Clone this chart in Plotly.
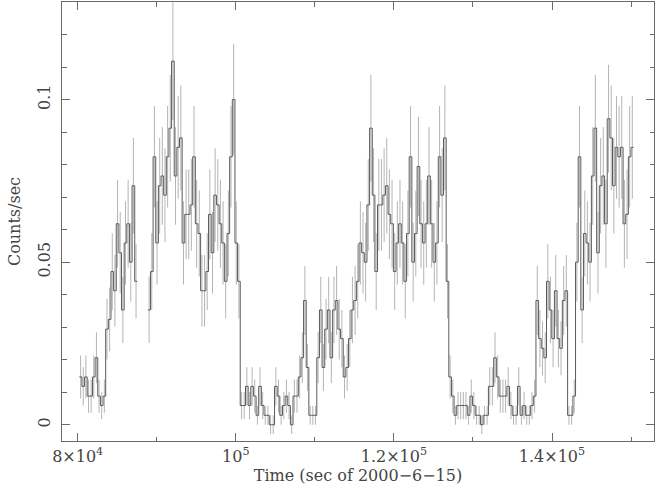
import plotly.graph_objects as go

# ---- data ----
bin_width = 334.0           # seconds per bin
seg1_start = 80200.0        # left edge of first bin of segment 1
seg2_start = 88870.0        # left edge of first bin of segment 2

seg1_rate = [0.0147, 0.0118, 0.0147, 0.0088, 0.0088, 0.0147, 0.0206, 0.0088, 0.0059, 0.0088,
             0.0294, 0.0324, 0.0471, 0.0412, 0.0618, 0.0529, 0.0353, 0.0559, 0.0618, 0.0500,
             0.0735, 0.0441]
seg1_err = [0.0066, 0.0059, 0.0066, 0.0051, 0.0051, 0.0066, 0.0078, 0.0051, 0.0042, 0.0051,
            0.0093, 0.0098, 0.0118, 0.0110, 0.0135, 0.0125, 0.0102, 0.0128, 0.0135, 0.0121,
            0.0147, 0.0114]

seg2a_rate = [0.0353, 0.0471, 0.0824, 0.0559, 0.0735, 0.0765, 0.0706, 0.0824, 0.0912, 0.1118,
              0.0765, 0.0853, 0.0882, 0.0559, 0.0647, 0.0647, 0.0676, 0.0824, 0.0618, 0.0588,
              0.0412, 0.0412, 0.0471, 0.0647, 0.0529, 0.0706, 0.0676, 0.0618, 0.0559, 0.0441,
              0.0588, 0.0824, 0.1000, 0.0559, 0.0441, 0.0059, 0.0059, 0.0118, 0.0059, 0.0118,
              0.0088, 0.0029]
seg2a_err = [0.0102, 0.0118, 0.0156, 0.0128, 0.0147, 0.0150, 0.0144, 0.0156, 0.0164, 0.0181,
             0.0150, 0.0158, 0.0161, 0.0128, 0.0138, 0.0138, 0.0141, 0.0156, 0.0135, 0.0132,
             0.0110, 0.0110, 0.0118, 0.0138, 0.0125, 0.0144, 0.0141, 0.0135, 0.0128, 0.0114,
             0.0132, 0.0156, 0.0171, 0.0128, 0.0114, 0.0042, 0.0042, 0.0059, 0.0042, 0.0059,
             0.0051, 0.0029]

seg2b_rate = [0.0118, 0.0059, 0.0029, 0.0029, 0.0, 0.0, 0.0118, 0.0088, 0.0029, 0.0059,
              0.0088, 0.0059, 0.0, 0.0088, 0.0088, 0.0147, 0.0206, 0.0382, 0.0176, 0.0029,
              0.0029, 0.0029, 0.0206, 0.0353, 0.0176, 0.0294, 0.0353, 0.0206, 0.0353, 0.0382,
              0.0294, 0.0265, 0.0147, 0.0176, 0.0265, 0.0353, 0.0382]
seg2b_err = [0.0059, 0.0042, 0.0029, 0.0029, 0.0029, 0.0029, 0.0059, 0.0051, 0.0029, 0.0042,
             0.0051, 0.0042, 0.0029, 0.0051, 0.0051, 0.0066, 0.0078, 0.0106, 0.0072, 0.0029,
             0.0029, 0.0029, 0.0078, 0.0102, 0.0072, 0.0093, 0.0102, 0.0078, 0.0102, 0.0106,
             0.0093, 0.0088, 0.0066, 0.0072, 0.0088, 0.0102, 0.0106]

seg2c_rate = [0.0441, 0.0559, 0.0529, 0.0500, 0.0676, 0.0912, 0.0706, 0.0471, 0.0676, 0.0676,
              0.0706, 0.0735, 0.0647, 0.0618, 0.0471, 0.0559, 0.0618, 0.0559, 0.0441, 0.0588,
              0.0824, 0.0500, 0.0588, 0.0794, 0.0618, 0.0559, 0.0618, 0.0765, 0.0618, 0.0500,
              0.0559, 0.0824, 0.0706, 0.0882, 0.0441, 0.0147, 0.0088, 0.0029]
seg2c_err = [0.0114, 0.0128, 0.0125, 0.0121, 0.0141, 0.0164, 0.0144, 0.0118, 0.0141, 0.0141,
             0.0144, 0.0147, 0.0138, 0.0135, 0.0118, 0.0128, 0.0135, 0.0128, 0.0114, 0.0132,
             0.0156, 0.0121, 0.0132, 0.0153, 0.0135, 0.0128, 0.0135, 0.0150, 0.0135, 0.0121,
             0.0128, 0.0156, 0.0144, 0.0161, 0.0114, 0.0066, 0.0051, 0.0029]

seg2d_rate = [0.0059, 0.0059, 0.0059, 0.0059, 0.0029, 0.0088, 0.0059, 0.0029, 0.0029, 0.0,
              0.0029, 0.0029, 0.0118, 0.0118, 0.0206, 0.0147, 0.0088, 0.0088, 0.0088, 0.0118,
              0.0059, 0.0029, 0.0029, 0.0118, 0.0029, 0.0059, 0.0029, 0.0029, 0.0059, 0.0088,
              0.0382, 0.0265, 0.0235, 0.0206, 0.0441, 0.0353, 0.0265, 0.0412]
seg2d_err = [0.0042, 0.0042, 0.0042, 0.0042, 0.0029, 0.0051, 0.0042, 0.0029, 0.0029, 0.0029,
             0.0029, 0.0029, 0.0059, 0.0059, 0.0078, 0.0066, 0.0051, 0.0051, 0.0051, 0.0059,
             0.0042, 0.0029, 0.0029, 0.0059, 0.0029, 0.0042, 0.0029, 0.0029, 0.0042, 0.0051,
             0.0106, 0.0088, 0.0083, 0.0078, 0.0114, 0.0102, 0.0088, 0.0110]

seg2e_rate = [0.0265, 0.0235, 0.0382, 0.0412, 0.0029, 0.0029, 0.0088, 0.0500, 0.0824, 0.0353,
              0.0588, 0.0559, 0.0500, 0.0765, 0.0912, 0.0529, 0.0735, 0.0765, 0.0618, 0.0941,
              0.0882, 0.0735, 0.0853, 0.0824, 0.0853, 0.0618, 0.0647, 0.0824, 0.0853]
seg2e_err = [0.0088, 0.0083, 0.0106, 0.0110, 0.0029, 0.0029, 0.0051, 0.0121, 0.0156, 0.0102,
             0.0132, 0.0128, 0.0121, 0.0150, 0.0164, 0.0125, 0.0147, 0.0150, 0.0135, 0.0166,
             0.0161, 0.0147, 0.0158, 0.0156, 0.0158, 0.0135, 0.0138, 0.0156, 0.0158]

x_tickvals = [80000, 100000, 120000, 140000]
x_ticktext = ["8\u00d710<sup>4</sup>", "10<sup>5</sup>", "1.2\u00d710<sup>5</sup>", "1.4\u00d710<sup>5</sup>"]
y_tickvals = [0, 0.05, 0.1]
y_ticktext = ["0", "0.05", "0.1"]

# ---- build traces ----
seg2_rate = seg2a_rate + seg2b_rate + seg2c_rate + seg2d_rate + seg2e_rate
seg2_err = seg2a_err + seg2b_err + seg2c_err + seg2d_err + seg2e_err
segments = [(seg1_start, seg1_rate, seg1_err), (seg2_start, seg2_rate, seg2_err)]

step_x, step_y = [], []
ctr_x, ctr_y, ctr_e = [], [], []
for start, rate, err in segments:
    n = len(rate)
    edges = [start + i * bin_width for i in range(n + 1)]
    step_x += edges + [None]
    step_y += list(rate) + [rate[-1], None]
    ctr_x += [start + (i + 0.5) * bin_width for i in range(n)]
    ctr_y += list(rate)
    ctr_e += list(err)

FONT = "DejaVu Serif"
fig = go.Figure()
fig.add_trace(go.Scatter(
    x=ctr_x, y=ctr_y, mode="markers",
    marker=dict(size=1, color="rgba(0,0,0,0)"),
    error_y=dict(type="data", array=ctr_e, visible=True, width=0, thickness=1, color="#b4b4b4"),
    hoverinfo="skip", showlegend=False))
fig.add_trace(go.Scatter(
    x=step_x, y=step_y, mode="lines", line=dict(shape="hv", color="#5a5a5a", width=1),
    connectgaps=False, hoverinfo="skip", showlegend=False))

fig.update_layout(
    width=655, height=491,
    margin=dict(l=62, r=1, t=2, b=50),
    paper_bgcolor="white", plot_bgcolor="white",
    font=dict(family=FONT, size=16, color="#444444"),
    showlegend=False,
)
fig.update_xaxes(
    range=[78014, 152903], showgrid=False, zeroline=False, automargin=False,
    showline=True, linecolor="#6a6a6a", linewidth=1, mirror="allticks",
    ticks="inside", ticklen=8, tickcolor="#6a6a6a", tickwidth=1,
    tickvals=x_tickvals, ticktext=x_ticktext, ticklabelstandoff=1,
    minor=dict(ticks="inside", ticklen=4.5, dtick=10000, tick0=0, tickcolor="#6a6a6a", showgrid=False),
    title=dict(text="Time (sec of 2000\u22126\u221215)", standoff=2, font=dict(family=FONT, size=16)),
)
fig.update_yaxes(
    range=[-0.005, 0.13], showgrid=False, zeroline=False, automargin=False,
    showline=True, linecolor="#6a6a6a", linewidth=1, mirror="allticks",
    ticks="inside", ticklen=8, tickcolor="#6a6a6a", tickwidth=1,
    tickvals=y_tickvals, ticktext=y_ticktext, tickangle=-90, ticklabelstandoff=5,
    minor=dict(ticks="inside", ticklen=4.5, dtick=0.01, tick0=0, tickcolor="#6a6a6a", showgrid=False),
    title=dict(text="Counts/sec", standoff=9, font=dict(family=FONT, size=16)),
)

fig.write_html("out.html", config={"displayModeBar": False},
               post_script="document.body.style.margin='0';document.body.style.padding='0';")
